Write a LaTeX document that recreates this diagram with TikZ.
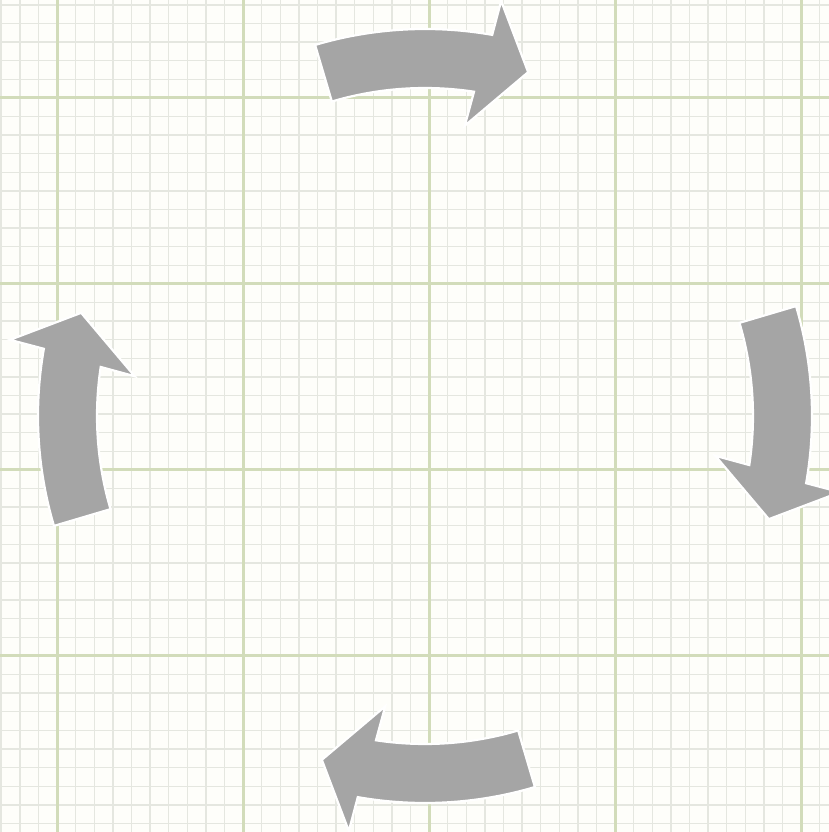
\documentclass[tikz,border=0pt]{standalone}
\usetikzlibrary{calc}
\definecolor{cpaper}{HTML}{FEFEFA}
\definecolor{cminor}{HTML}{E5E7E0}
\definecolor{cmajor}{HTML}{D2DCBA}
\definecolor{cgrey}{HTML}{A5A5A5}
\tikzset{
  minorline/.style={draw=cminor, line width=0.7pt},
  majorline/.style={draw=cmajor, line width=1.5pt},
  cyclearrow/.style={fill=cgrey, draw=white, line width=1.1pt, line join=miter},
}

\begin{document}
\begin{tikzpicture}[x=1pt, y=1pt]
  \useasboundingbox (0,0) rectangle (414.5,416);
  \fill[cpaper] (0,0) rectangle (414.5,416);
  % graph paper
  \foreach \k in {0,...,44}{
    \draw[minorline] ({0.6+\k*9.3},0) -- ++(0,416);
    \draw[minorline] (0,{413.5-\k*9.3}) -- ++(414.5,0);
  }
  \foreach \k in {3,13,...,43}{
    \draw[majorline] ({0.6+\k*9.3},0) -- ++(0,416);
  }
  \foreach \k in {5,15,...,35}{
    \draw[majorline] (0,{413.5-\k*9.3}) -- ++(414.5,0);
  }
  \coordinate (ring) at (212.5,208);
  % four arrows round the ring
  \foreach \a in {0,-90,-180,-270}{
    \begin{scope}[shift={(ring)}, rotate=\a]
      \path[cyclearrow] (106.5:193.5) arc[start angle=106.5, end angle=80, radius=193.5pt]
        -- (79.6:211) -- (73.3:179.5) -- (82.2:146.5) -- (81.4:164)
        arc[start angle=81.4, end angle=106.5, radius=164pt] -- cycle;
    \end{scope}
  }
\end{tikzpicture}
\end{document}
